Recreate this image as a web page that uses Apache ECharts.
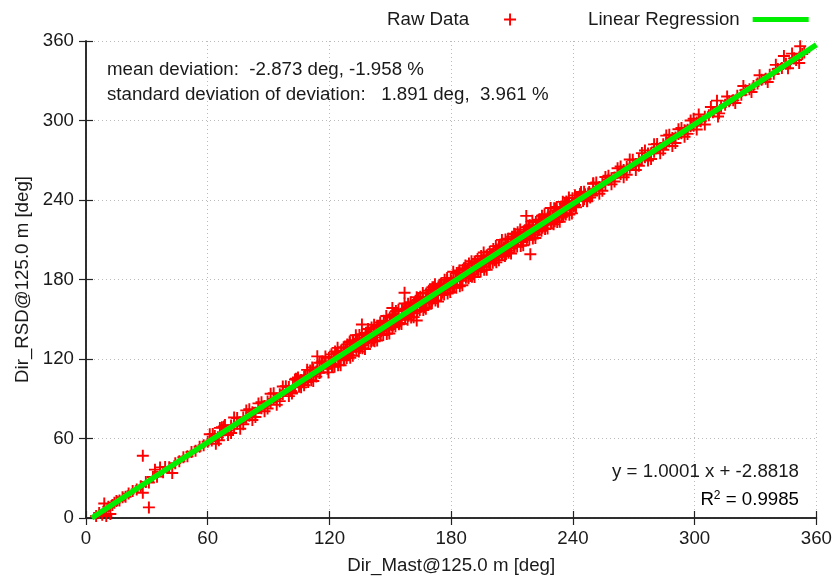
<!DOCTYPE html>
<html><head><meta charset="utf-8">
<script src="https://cdn.jsdelivr.net/npm/echarts@6/dist/echarts.min.js"></script>
<style>html,body{margin:0;padding:0;background:#fff}#c{width:835px;height:580px}</style>
</head><body><div id="c"></div>
<script>
// ---- data ----
const xTicks = [0, 60, 120, 180, 240, 300, 360];
const yTicks = [0, 60, 120, 180, 240, 300, 360];
const seriesNames = ['Raw Data', 'Linear Regression'];
const regSlope = 1.0001;
const regIntercept = -2.8818;
const regR2 = 0.9985;
const meanDevDeg = -2.873, meanDevPct = -1.958;
const stdDevDeg = 1.891, stdDevPct = 3.961;

const rawLow = [[5,1.5],[6.5,3.8],[8,2.5],[9,11],[9,5.5],[10,1.5],[11,8.5],[12,3],[13,9.8],[14,11.5],[15,12.8],[16.5,13.2],[18,15.6],[19.5,16.1],[21,18.4],[23,20.3],[25,21.6],[27,23.9],[28,47],[28,19],[31,8],[29.5,27.2],[31,26.8],[33,30.9],[34,36.5],[35,31.2],[36.5,38.2],[38,34.6],[39,38.5],[41,38.3],[42.5,34],[44,41.4],[46,42.8],[48,45.9],[50,46.6],[52,49.8],[54,50.7],[56,53.8],[58,54.9],[60,57.6]];
const rawMidLow = [[62,58.5],[63.5,61.8],[65,60.9],[66,68],[67,63.4],[68,69],[68.5,66.2],[70,66.1],[71.5,69.8],[73,69.5],[74.5,71.2],[76,72.3],[77.5,75.9],[79,75.6],[80.5,77.1],[82,79.8],[83.5,79.4],[85,83.1],[86.5,82.8],[88,84.6],[89.5,88.0],[91,87.2],[92.5,89.9],[94,90.1],[95.5,93.4],[97,93.6],[98.5,96.2]];
const rawEdgeLow = [[61,63.2],[64,56.0],[67,68.5],[70,62.6],[73,75.8],[76,67.4],[79,81.2],[82,74.0],[85,86.5],[88,80.6],[91,93.8],[94,85.4],[97,99.2],[100,92.0],[103,104.5],[106,98.6],[109,111.8],[112,103.4],[115,117.2]];
const rawEdgeLow2 = [[62.5,63.4],[65.5,58.7],[68.5,70.1],[71.5,64.2],[74.5,75.4],[77.5,70.7],[80.5,82.1],[83.5,76.2],[86.5,87.4],[89.5,82.7],[92.5,94.1],[95.5,88.2],[98.5,99.4],[101.5,94.7],[104.5,106.1],[107.5,100.2],[110.5,111.4],[113.5,106.7],[116.5,118.1]];
const rawDenseA = [[100,98.9],[101,95.9],[102,99.7],[103,99.2],[104,104.5],[105,99.0],[106,104.2],[107,103.7],[108,107.6],[109,104.4],[110,107.3],[111,103.9],[112,112.0],[113,108.9],[114,111.9],[115,109.5],[116,117.2],[117,113.5],[118,116.6],[119,112.6],[120,117.5],[121,116.2],[122,121.3],[123,120.0],[124,124.9],[125,119.2],[126,124.4],[127,119.1],[128,126.0],[129,124.7],[130,132.3],[131,125.8],[132,129.2],[133,129.3],[134,133.8],[135,128.3],[136,134.7],[137,133.1],[138,139.7],[139,135.8],[140,138.9],[141,135.9],[142,139.7],[143,139.2],[144,144.5],[145,139.0],[146,144.2],[147,143.7],[148,147.6],[149,144.4],[150,147.3],[151,143.9],[152,152.0],[153,148.9],[154,151.9],[155,149.5],[156,157.2],[157,153.5],[158,156.6],[159,152.6],[160,157.5],[161,156.2],[162,161.3],[163,160.0],[164,164.9],[165,159.2],[166,164.4],[167,159.1],[168,166.0],[169,164.7],[170,172.3],[171,165.8],[172,169.2],[173,169.3],[174,173.8],[175,168.3],[176,174.7],[177,173.1],[178,179.7],[179,175.8],[180,178.9],[181,175.9],[182,179.7],[183,179.2],[184,184.5],[185,179.0],[186,184.2],[187,183.7],[188,187.6],[189,184.4],[190,187.3],[191,183.9],[192,192.0],[193,188.9],[194,191.9],[195,189.5],[196,197.2],[197,193.5],[198,196.6],[199,192.6],[200,197.5],[201,196.2],[202,201.3],[203,200.0],[204,204.9],[205,199.2],[206,204.4],[207,199.1],[208,206.0],[209,204.7],[210,212.3],[211,205.8],[212,209.2],[213,209.3],[214,213.8],[215,208.3],[216,214.7],[217,213.1],[218,219.7],[219,215.8],[220,218.9],[221,215.9],[222,219.7],[223,219.2],[224,224.5],[225,219.0],[226,224.2],[227,223.7],[228,227.6],[229,224.4],[230,227.3],[231,223.9],[232,232.0],[233,228.9],[234,231.9],[235,229.5],[236,237.2],[237,233.5],[238,236.6],[239,232.6],[240,237.5],[241,236.2],[242,241.3],[243,240.0],[244,244.9],[245,239.2],[246,244.4],[247,239.1],[248,246.0],[249,244.7],[250,252.3]];
const rawDenseB = [[130.5,127.1],[132.5,131.6],[134.5,129.5],[136.5,134.3],[138.5,134.1],[140.5,140.8],[142.5,136.3],[144.5,141.9],[146.5,142.9],[148.5,147.5],[150.5,145.6],[152.5,150.5],[154.5,147.2],[156.5,156.0],[158.5,155.4],[160.5,155.2],[162.5,163.9],[164.5,161.6],[166.5,162.5],[168.5,166.8],[170.5,164.4],[172.5,169.2],[174.5,175.2],[176.5,172.0],[178.5,176.1],[180.5,174.8],[182.5,181.3],[184.5,180.7],[186.5,188.5],[188.5,181.9],[190.5,188.3],[192.5,187.8],[194.5,193.7],[196.5,193.0],[198.5,192.6],[200.5,199.0],[202.5,202.7],[204.5,200.3],[206.5,203.8],[208.5,201.6],[210.5,207.1],[212.5,211.6],[214.5,209.5],[216.5,214.3],[218.5,214.1],[220.5,220.8],[222.5,216.3],[224.5,221.9],[226.5,222.9],[228.5,227.5],[230.5,225.6],[232.5,230.5],[234.5,227.2],[236.5,236.0],[238.5,235.4],[240.5,235.2]];
const rawDenseC = [[101.5,94.0],[103.5,105.1],[105.5,101.1],[107.5,106.6],[109.5,102.7],[111.5,113.6],[113.5,110.5],[115.5,109.9],[117.5,117.9],[119.5,117.6],[121.5,114.5],[123.5,124.5],[125.5,120.6],[127.5,125.0],[129.5,123.3],[131.5,134.1],[133.5,133.2],[135.5,130.2],[137.5,136.0],[139.5,135.9],[141.5,134.0],[143.5,145.1],[145.5,141.1],[147.5,146.6],[149.5,142.7],[151.5,153.6],[153.5,150.5],[155.5,149.9],[157.5,157.9],[159.5,157.6],[161.5,154.5],[163.5,164.5],[165.5,160.6],[167.5,165.0],[169.5,163.3],[171.5,174.1],[173.5,173.2],[175.5,170.2],[177.5,176.0],[179.5,175.9],[181.5,174.0],[183.5,185.1],[185.5,181.1],[187.5,186.6],[189.5,182.7],[191.5,193.6],[193.5,190.5],[195.5,189.9],[197.5,197.9],[199.5,197.6],[201.5,194.5],[203.5,204.5],[205.5,200.6],[207.5,205.0],[209.5,203.3],[211.5,214.1],[213.5,213.2],[215.5,210.2],[217.5,216.0],[219.5,215.9],[221.5,214.0],[223.5,225.1],[225.5,221.1],[227.5,226.6],[229.5,222.7],[231.5,233.6],[233.5,230.5],[235.5,229.9],[237.5,237.9],[239.5,237.6],[241.5,234.5],[243.5,244.5],[245.5,240.6],[247.5,245.0],[249.5,243.3]];
const rawDenseD = [[118.0,121.8],[119.5,109.9],[121.0,123.5],[122.5,114.1],[124.0,128.4],[125.5,115.3],[127.0,128.9],[128.5,120.7],[130.0,133.2],[131.5,122.5],[133.0,137.9],[134.5,125.7],[136.0,138.8],[137.5,127.6],[139.0,142.6],[140.5,133.0],[142.0,145.8],[143.5,133.9],[145.0,147.5],[146.5,138.1],[148.0,152.4],[149.5,139.3],[151.0,152.9],[152.5,144.7],[154.0,157.2],[155.5,146.5],[157.0,161.9],[158.5,149.7],[160.0,162.8],[161.5,151.6],[163.0,166.6],[164.5,157.0],[166.0,169.8],[167.5,157.9],[169.0,171.5],[170.5,162.1],[172.0,176.4],[173.5,163.3],[175.0,176.9],[176.5,168.7],[178.0,181.2],[179.5,170.5],[181.0,185.9],[182.5,173.7],[184.0,186.8],[185.5,175.6],[187.0,190.6],[188.5,181.0],[190.0,193.8],[191.5,181.9],[193.0,195.5],[194.5,186.1],[196.0,200.4],[197.5,187.3],[199.0,200.9],[200.5,192.7],[202.0,205.2],[203.5,194.5],[205.0,209.9],[206.5,197.7],[208.0,210.8],[209.5,199.6],[211.0,214.6],[212.5,205.0],[214.0,217.8],[215.5,205.9],[217.0,219.5],[218.5,210.1],[220.0,224.4],[221.5,211.3],[223.0,224.9],[224.5,216.7],[226.0,229.2],[227.5,218.5],[229.0,233.9],[230.5,221.7],[232.0,234.8],[233.5,223.6],[235.0,238.6],[236.5,229.0],[238.0,241.8],[239.5,229.9],[241.0,243.5]];
const rawDenseE = [[119.75,120.95],[121.25,114.75],[122.75,125.75],[124.25,115.35],[125.75,126.35],[127.25,120.05],[128.75,130.95],[130.25,120.95],[131.75,133.35],[133.25,127.25],[134.75,138.15],[136.25,128.15],[137.75,138.95],[139.25,132.75],[140.75,143.75],[142.25,133.35],[143.75,144.35],[145.25,138.05],[146.75,148.95],[148.25,138.95],[149.75,151.35],[151.25,145.25],[152.75,156.15],[154.25,146.15],[155.75,156.95],[157.25,150.75],[158.75,161.75],[160.25,151.35],[161.75,162.35],[163.25,156.05],[164.75,166.95],[166.25,156.95],[167.75,169.35],[169.25,163.25],[170.75,174.15],[172.25,164.15],[173.75,174.95],[175.25,168.75],[176.75,179.75],[178.25,169.35],[179.75,180.35],[181.25,174.05],[182.75,184.95],[184.25,174.95],[185.75,187.35],[187.25,181.25],[188.75,192.15],[190.25,182.15],[191.75,192.95],[193.25,186.75],[194.75,197.75],[196.25,187.35],[197.75,198.35],[199.25,192.05],[200.75,202.95],[202.25,192.95],[203.75,205.35],[205.25,199.25],[206.75,210.15],[208.25,200.15],[209.75,210.95],[211.25,204.75],[212.75,215.75],[214.25,205.35],[215.75,216.35],[217.25,210.05],[218.75,220.95],[220.25,210.95],[221.75,223.35],[223.25,217.25],[224.75,228.15],[226.25,218.15],[227.75,228.95],[229.25,222.75],[230.75,233.75],[232.25,223.35],[233.75,234.35],[235.25,228.05],[236.75,238.95],[238.25,228.95],[239.75,241.35]];
const rawEdgeHigh = [[244,246.0],[247,239.2],[250,252.6],[253,244.7],[256,257.4],[259,251.8],[262,264.0],[265,257.2],[268,270.6],[271,262.7],[274,275.4],[277,269.8],[280,282.0],[283,275.2],[286,288.6],[289,280.7],[292,293.4],[295,287.8],[298,300.0],[301,293.2]];
const rawEdgeHigh2 = [[245.5,246.3],[248.5,241.9],[251.5,253.3],[254.5,247.0],[257.5,258.3],[260.5,253.9],[263.5,265.3],[266.5,259.0],[269.5,270.3],[272.5,265.9],[275.5,277.3],[278.5,271.0],[281.5,282.3],[284.5,277.9],[287.5,289.3],[290.5,283.0],[293.5,294.3],[296.5,289.9],[299.5,301.3]];
const rawMidHigh = [[251.5,248.1],[253,249.9],[254.5,252.6],[256,251.8],[257.5,255.3],[259,256.4],[260.5,256.9],[262,260.5],[263.5,259.7],[265,262.6],[266.5,264.9],[268,264.3],[269.5,266.8],[271,267.1],[272.5,270.4],[274,270.9],[275.5,272.2],[277,275.1],[278.5,275.3],[280,276.4],[281.5,279.6],[283,279.2],[284.5,282.1],[286,283.0],[287.5,284.1],[289,286.8],[290.5,287.2],[292,289.9],[293.5,290.3],[295,292.6],[296.5,293.1],[298,295.7],[299.5,296.0]];
const rawHigh = [[301,298.5],[302,304.5],[303,299.4],[305,302.8],[305,297.0],[307,303.9],[308,310.2],[309,306.2],[311,315],[311.5,303],[312,305.4],[313,310.3],[315,311.8],[316,318.1],[317,314.6],[319,315.2],[320,313.2],[321,318.7],[323,319.4],[324,326.0],[325,322.9],[327,323.6],[328,321.5],[329,326.1],[331,327.9],[332,334.2],[333,330.8],[335,331.5],[336,329.1],[337,334.6],[339,335.2],[340,342.0],[341,338.9],[343,339.7],[344,348.7],[345,342.8],[346,339.4],[347,343.2],[348,350.5],[349,346.9],[350,345.6],[351.5,343.4],[352,356],[353,350.1],[354,351.4]];
const rawOutliers = [[136,146],[151,158.5],[163,149],[157,170],[217,228],[219,199],[114,122]];

// ---- chart ----
const rawData = [].concat(rawLow, rawMidLow, rawEdgeLow, rawEdgeLow2, rawDenseA, rawDenseB, rawDenseC, rawDenseD, rawDenseE, rawEdgeHigh, rawEdgeHigh2, rawMidHigh, rawHigh, rawOutliers);
const regX0 = -regIntercept / regSlope;
const regLine = [[regX0, 0], [360, regSlope * 360 + regIntercept]];

const plus = 'path://M-0.16,-1L0.16,-1L0.16,-0.16L1,-0.16L1,0.16L0.16,0.16L0.16,1L-0.16,1L-0.16,0.16L-1,0.16L-1,-0.16L-0.16,-0.16Z';
const FONT = '"Liberation Sans", Arial, Helvetica, sans-serif';
const FS = 18.7;
const TXT = '#1a1a1a';
const chart = echarts.init(document.getElementById('c'), null, {renderer: 'canvas'});

const axisCommon = {
  min: 0, max: 360, interval: 60,
  axisLine: {show: true, lineStyle: {color: '#222', width: 1.5}},
  axisTick: {show: true, inside: true, length: 7, lineStyle: {color: '#222', width: 1.2}},
};

chart.setOption({
  animation: false,
  backgroundColor: '#fff',
  textStyle: {fontFamily: FONT},
  grid: {left: 86, right: 16, top: 41, bottom: 62, containLabel: false},
  legend: [
    {data: [{name: 'Raw Data', icon: plus}], left: 382, top: 5, align: 'right', itemWidth: 12, itemHeight: 12,
     textStyle: {fontFamily: FONT, fontSize: FS, color: TXT, padding: [0, 30, 0, 0]}},
    {data: [{name: 'Linear Regression', icon: 'rect', itemStyle: {color: '#00ee00'}}], left: 583, top: 5, align: 'right', itemWidth: 56, itemHeight: 5,
     textStyle: {fontFamily: FONT, fontSize: FS, color: TXT, padding: [0, 8, 0, 0]}}
  ],
  xAxis: [
    Object.assign({}, axisCommon, {type: 'value', position: 'bottom',
      name: 'Dir_Mast@125.0 m [deg]', nameLocation: 'middle', nameGap: 38,
      nameTextStyle: {fontFamily: FONT, fontSize: FS, color: TXT},
      axisLabel: {fontFamily: FONT, fontSize: FS, color: TXT, margin: 11, formatter: v => xTicks.includes(v) ? String(v) : ''},
      splitLine: {show: true, lineStyle: {color: '#bbb', type: [1, 3], width: 1}}}),
    Object.assign({}, axisCommon, {type: 'value', position: 'top', axisLabel: {show: false}, splitLine: {show: false}})
  ],
  yAxis: [
    Object.assign({}, axisCommon, {type: 'value', position: 'left',
      name: 'Dir_RSD@125.0 m [deg]', nameLocation: 'middle', nameGap: 54, nameRotate: 90,
      nameTextStyle: {fontFamily: FONT, fontSize: FS, color: TXT},
      axisLabel: {fontFamily: FONT, fontSize: FS, color: TXT, margin: 12, formatter: v => yTicks.includes(v) ? String(v) : ''},
      splitLine: {show: true, lineStyle: {color: '#bbb', type: [1, 3], width: 1}}}),
    Object.assign({}, axisCommon, {type: 'value', position: 'right', axisLabel: {show: false}, splitLine: {show: false}})
  ],
  series: [
    {name: seriesNames[0], type: 'scatter', xAxisIndex: 0, yAxisIndex: 0, data: rawData,
     symbol: plus, symbolSize: 12, itemStyle: {color: '#ff0000', opacity: 1}, z: 2},
    {name: seriesNames[1], type: 'line', xAxisIndex: 0, yAxisIndex: 0, data: regLine,
     symbol: 'none', lineStyle: {color: '#00ee00', width: 5.5}, itemStyle: {color: '#00ee00'}, z: 3}
  ],
  graphic: [
    {type: 'text', x: 107, y: 70, z: 10, style: {text: 'mean deviation:  ' + meanDevDeg.toFixed(3) + ' deg, ' + meanDevPct.toFixed(3) + ' %', font: FS + 'px ' + FONT, fill: TXT, textVerticalAlign: 'middle'}},
    {type: 'text', x: 107, y: 95, z: 10, style: {text: 'standard deviation of deviation:   ' + stdDevDeg.toFixed(3) + ' deg,  ' + stdDevPct.toFixed(3) + ' %', font: FS + 'px ' + FONT, fill: TXT, textVerticalAlign: 'middle'}},
    {type: 'text', x: 799, y: 472, z: 10, style: {text: 'y = ' + regSlope.toFixed(4) + ' x + ' + regIntercept.toFixed(4), font: FS + 'px ' + FONT, fill: TXT, textAlign: 'right', textVerticalAlign: 'middle'}},
    {type: 'text', x: 799, y: 500, z: 10, style: {text: '{a|R}{s|2}{a| = ' + regR2.toFixed(4) + '}', textAlign: 'right', textVerticalAlign: 'middle',
      rich: {a: {fontFamily: FONT, fontSize: FS, color: TXT}, s: {fontFamily: FONT, fontSize: 12, color: TXT, verticalAlign: 'top', padding: [0, 0, 9, 0]}}}}
  ]
});
</script></body></html>
